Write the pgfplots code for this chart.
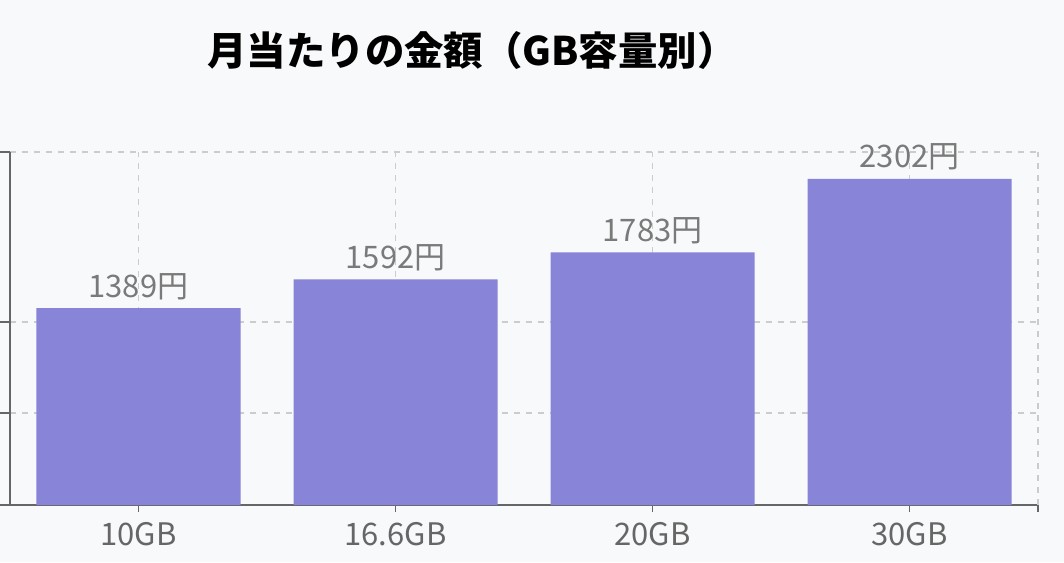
\documentclass[border=0pt]{standalone}
\usepackage{fontspec}
\setmainfont{Noto Sans CJK JP}
\usepackage{pgfplots}
\pgfplotsset{compat=1.18}
\definecolor{bg}{HTML}{F8F9FB}
\definecolor{barc}{HTML}{8884D8}
\definecolor{axc}{HTML}{666666}
\definecolor{gridc}{HTML}{CCCCCC}
\definecolor{labc}{HTML}{7A7A7A}
\begin{document}
\begin{tikzpicture}[x=1pt,y=1pt]
\fill[bg] (-5,-28.5) rectangle (527,252.5);
\path[use as bounding box] (-5,-28.5) rectangle (527,252.5);
\begin{axis}[
  at={(0,0)}, anchor=south west,
  scale only axis, width=514pt, height=176.5pt,
  xmin=-0.5, xmax=3.5, ymin=0, ymax=2492,
  axis x line*=bottom, axis y line*=left,
  axis line style={axc, line width=0.7pt, -},
  xtick={0,1,2,3}, xticklabels={10GB,16.6GB,20GB,30GB},
  ytick={0,650,1292,2492}, yticklabels={},
  tick align=outside,
  xtick style={axc, line width=0.7pt, /pgfplots/major tick length=3.5pt},
  ytick style={axc, line width=0.7pt, /pgfplots/major tick length=5pt},
  xmajorgrids, ymajorgrids,
  major grid style={gridc, dash pattern=on 3pt off 3pt, line width=0.7pt},
  extra x ticks={3.5}, extra x tick labels={},
  extra x tick style={grid=major, /pgfplots/major tick length=0pt},
  ybar, bar width=102pt, bar shift=0pt,
  nodes near coords, point meta=explicit symbolic,
  every node near coord/.append style={font=\fontsize{15.5}{16}\selectfont, text=labc, anchor=base, yshift=5.5pt},
  xticklabel style={font=\fontsize{15.5}{16}\selectfont, text=axc, anchor=base, yshift=-16pt},
]
\addplot[fill=barc, draw=none] coordinates {(0,1389) [1389円] (1,1592) [1592円] (2,1783) [1783円] (3,2302) [2302円]};
\end{axis}
\node[font=\bfseries\fontsize{19.7}{23}\selectfont, text=black] at (231,227) {月当たりの金額（GB容量別）};
\end{tikzpicture}
\end{document}
